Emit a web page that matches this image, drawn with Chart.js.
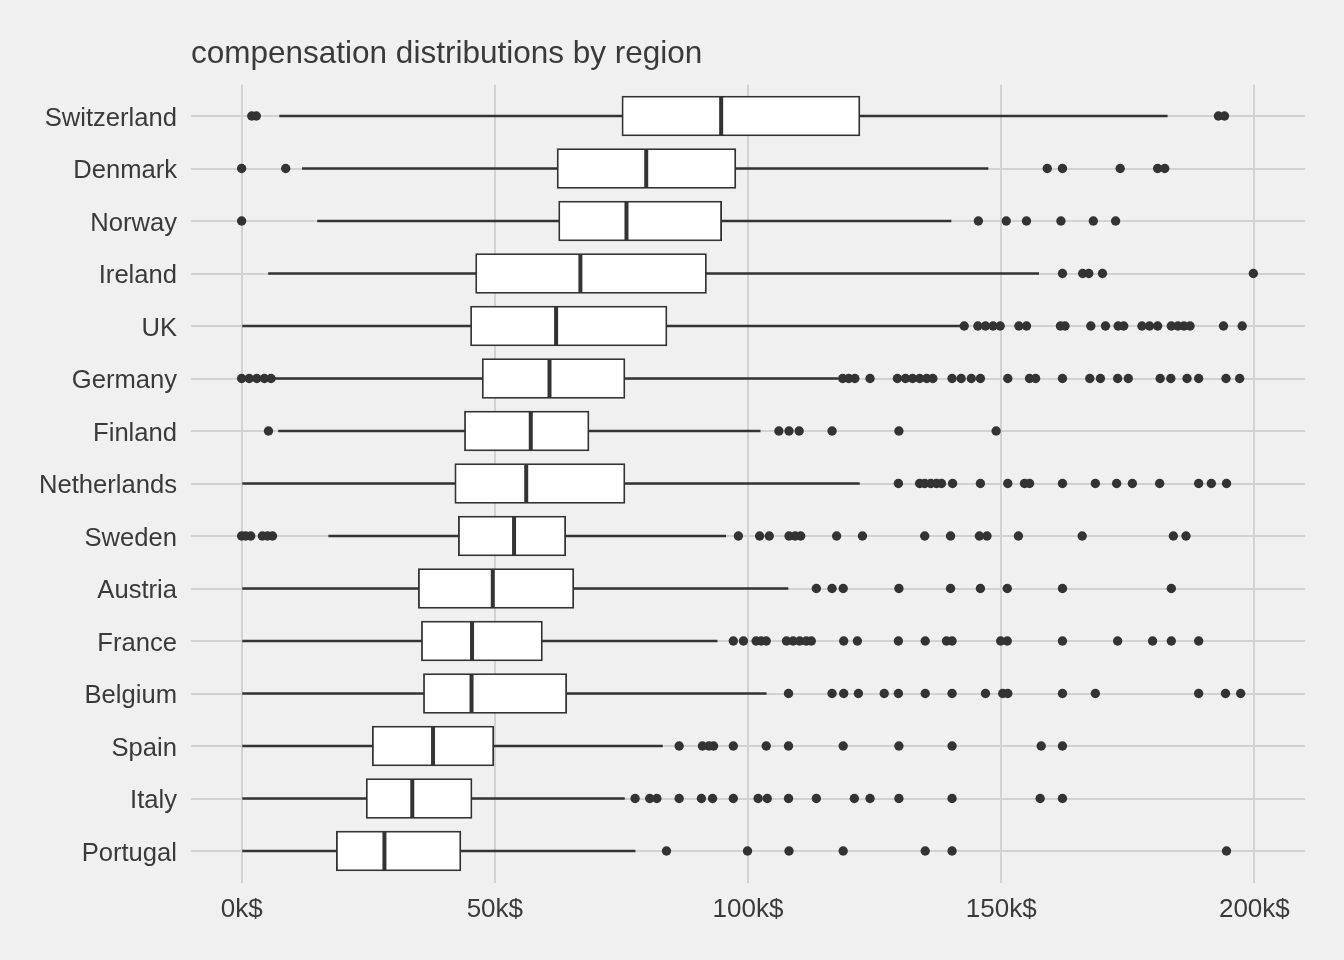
<!DOCTYPE html>
<html>
<head>
<meta charset="utf-8">
<script src="https://cdn.jsdelivr.net/npm/chart.js@4.4.1/dist/chart.umd.min.js"></script>
<style>
  html, body { margin: 0; padding: 0; background: #F0F0F0; }
  #wrap { width: 1344px; height: 960px; position: relative; }
</style>
</head>
<body>
<div id="wrap"><canvas id="c"></canvas></div>
<script>
// ---- data (values in thousands of $) ----
const categories = ["Switzerland","Denmark","Norway","Ireland","UK","Germany","Finland","Netherlands","Sweden","Austria","France","Belgium","Spain","Italy","Portugal"];
const whiskerLow  = [7.5, 12.0, 15.0, 5.3, 0, 6.3, 7.3, 0, 17.2, 0, 0, 0, 0, 0, 0];
const q1          = [75.1, 62.3, 62.6, 46.2, 45.2, 47.5, 44.0, 42.1, 42.8, 34.9, 35.5, 35.9, 25.8, 24.6, 18.7];
const medians     = [94.7, 79.9, 76.0, 66.9, 62.1, 60.8, 57.1, 56.2, 53.8, 49.6, 45.5, 45.4, 37.8, 33.7, 28.2];
const q3          = [122.1, 97.6, 94.8, 91.8, 84.0, 75.7, 68.6, 75.7, 64.0, 65.6, 59.4, 64.2, 49.8, 45.5, 43.3];
const whiskerHigh = [182.8, 147.4, 140.1, 157.4, 141.9, 117.7, 102.4, 122.0, 95.6, 107.9, 93.9, 103.6, 83.1, 75.6, 77.7];

const outSwitzerland = [2.0, 2.9, 192.9, 194.1];
const outDenmark = [0, 8.7, 159.1, 162.1, 173.5, 180.9, 182.3];
const outNorway = [0, 145.5, 151.0, 155.0, 161.8, 168.2, 172.6];
const outIreland = [162.1, 166.1, 167.3, 170.0, 199.8];
const outUK = [142.7, 145.4, 146.9, 148.4, 149.8, 153.5, 155.0, 161.7, 162.6, 167.7, 170.6, 173.1, 174.2, 177.8, 179.3, 180.9, 183.6, 184.9, 186.1, 187.3, 193.9, 197.6];
const outGermany = [0, 1.5, 3.0, 4.5, 5.8, 118.7, 119.9, 121.1, 124.1, 129.5, 131.1, 132.5, 133.9, 135.3, 136.5, 140.3, 142.1, 144.1, 145.9, 151.3, 155.6, 156.8, 162.1, 167.5, 169.6, 173.0, 175.1, 181.4, 183.5, 186.7, 189.0, 194.4, 197.1];
const outFinland = [5.3, 106.1, 108.1, 110.1, 116.6, 129.8, 149.0];
const outNetherlands = [129.7, 133.9, 134.9, 136.1, 137.2, 138.2, 140.4, 145.9, 151.3, 154.6, 155.6, 162.1, 168.6, 172.8, 175.9, 181.3, 189.0, 191.5, 194.5];
const outSweden = [0, 0.8, 1.8, 4.1, 5.1, 6.1, 98.1, 102.3, 104.2, 108.1, 109.3, 110.4, 117.5, 122.6, 134.9, 140.0, 145.7, 147.2, 153.4, 166.0, 184.0, 186.5];
const outAustria = [113.5, 116.6, 118.8, 129.8, 140.0, 145.9, 151.2, 162.1, 183.6];
const outFrance = [97.1, 99.1, 101.6, 102.6, 103.6, 107.6, 108.9, 110.2, 111.5, 112.5, 118.9, 121.6, 129.7, 135.0, 139.2, 140.3, 149.9, 151.2, 162.1, 173.0, 179.9, 183.6, 189.0];
const outBelgium = [108.0, 116.6, 118.9, 121.8, 126.9, 129.7, 135.0, 140.3, 146.9, 150.3, 151.3, 162.1, 168.6, 189.0, 194.3, 197.3];
const outSpain = [86.4, 91.0, 92.3, 93.2, 97.1, 103.6, 108.0, 118.8, 129.8, 140.3, 157.9, 162.1];
const outItaly = [77.7, 80.6, 82.0, 86.4, 90.8, 93.0, 97.1, 102.0, 103.8, 108.0, 113.5, 121.0, 124.1, 129.8, 140.3, 157.7, 162.1];
const outPortugal = [83.9, 99.9, 108.1, 118.8, 135.0, 140.3, 194.5];
const outliers = [outSwitzerland, outDenmark, outNorway, outIreland, outUK, outGermany, outFinland, outNetherlands, outSweden, outAustria, outFrance, outBelgium, outSpain, outItaly, outPortugal];

const xTicks = [0, 50, 100, 150, 200];
const titleText = "compensation distributions by region";

// ---- build datasets ----
const INK = "#333333";
const TEXT = "#3A3A3A";
const GRID = "#D2D2D2";

const whiskerData = categories.map((c, i) => ({ x: [whiskerLow[i], whiskerHigh[i]], y: i }));
const boxData = categories.map((c, i) => ({ x: [q1[i], q3[i]], y: i }));
const medianData = categories.map((c, i) => ({ x: medians[i], y: i }));
const outlierData = [];
outliers.forEach((arr, i) => arr.forEach(v => outlierData.push({ x: v, y: i })));

Chart.defaults.font.family = "'Liberation Sans', Arial, sans-serif";
Chart.defaults.color = TEXT;

new Chart(document.getElementById("c"), {
  type: "bar",
  data: {
    datasets: [
      {
        type: "scatter", label: "outliers", data: outlierData, order: 0,
        pointStyle: "circle", pointRadius: 4.7, pointBorderWidth: 0,
        pointBackgroundColor: INK, pointBorderColor: INK
      },
      {
        type: "scatter", label: "median", data: medianData, order: 1,
        pointStyle: "line", pointRotation: 90, pointRadius: 19.5,
        pointBorderWidth: 4, pointBorderColor: INK, pointBackgroundColor: INK
      },
      {
        type: "bar", label: "box", data: boxData, indexAxis: "y", order: 2,
        grouped: false, barThickness: 40,
        backgroundColor: "#FFFFFF", borderColor: INK, borderWidth: 1.8, borderSkipped: false
      },
      {
        type: "bar", label: "whisker", data: whiskerData, indexAxis: "y", order: 3,
        grouped: false, barThickness: 2,
        backgroundColor: INK, borderWidth: 0
      }
    ]
  },
  options: {
    indexAxis: "y",
    responsive: true,
    maintainAspectRatio: false,
    animation: false,
    events: [],
    layout: { padding: { left: 0, right: 39, top: 0, bottom: 0 } },
    plugins: {
      legend: { display: false },
      tooltip: { enabled: false },
      title: {
        display: true, text: titleText, align: "start", fullSize: false,
        color: TEXT, font: { size: 31.5, weight: "normal" },
        padding: { top: 35, bottom: 11.7 }
      }
    },
    scales: {
      x: {
        type: "linear", position: "bottom", min: -10, max: 210, offset: false,
        afterBuildTicks: s => { s.ticks = xTicks.map(v => ({ value: v })); },
        afterFit: s => { s.height = 77.5; },
        grid: { color: GRID, lineWidth: 2, drawTicks: false, offset: false },
        border: { display: false },
        ticks: { padding: 11.6, color: TEXT, font: { size: 26 }, callback: v => v + "k$" }
      },
      y: {
        type: "linear", position: "left", min: -0.6, max: 14.6, reverse: true, offset: false,
        afterBuildTicks: s => { s.ticks = categories.map((c, i) => ({ value: i })); },
        afterFit: s => { s.width = 191; },
        grid: { color: GRID, lineWidth: 2, drawTicks: false, offset: false },
        border: { display: false },
        ticks: { padding: 14, labelOffset: 2.5, color: TEXT, font: { size: 25.6 }, callback: v => categories[v] }
      }
    }
  }
});
</script>
</body>
</html>
